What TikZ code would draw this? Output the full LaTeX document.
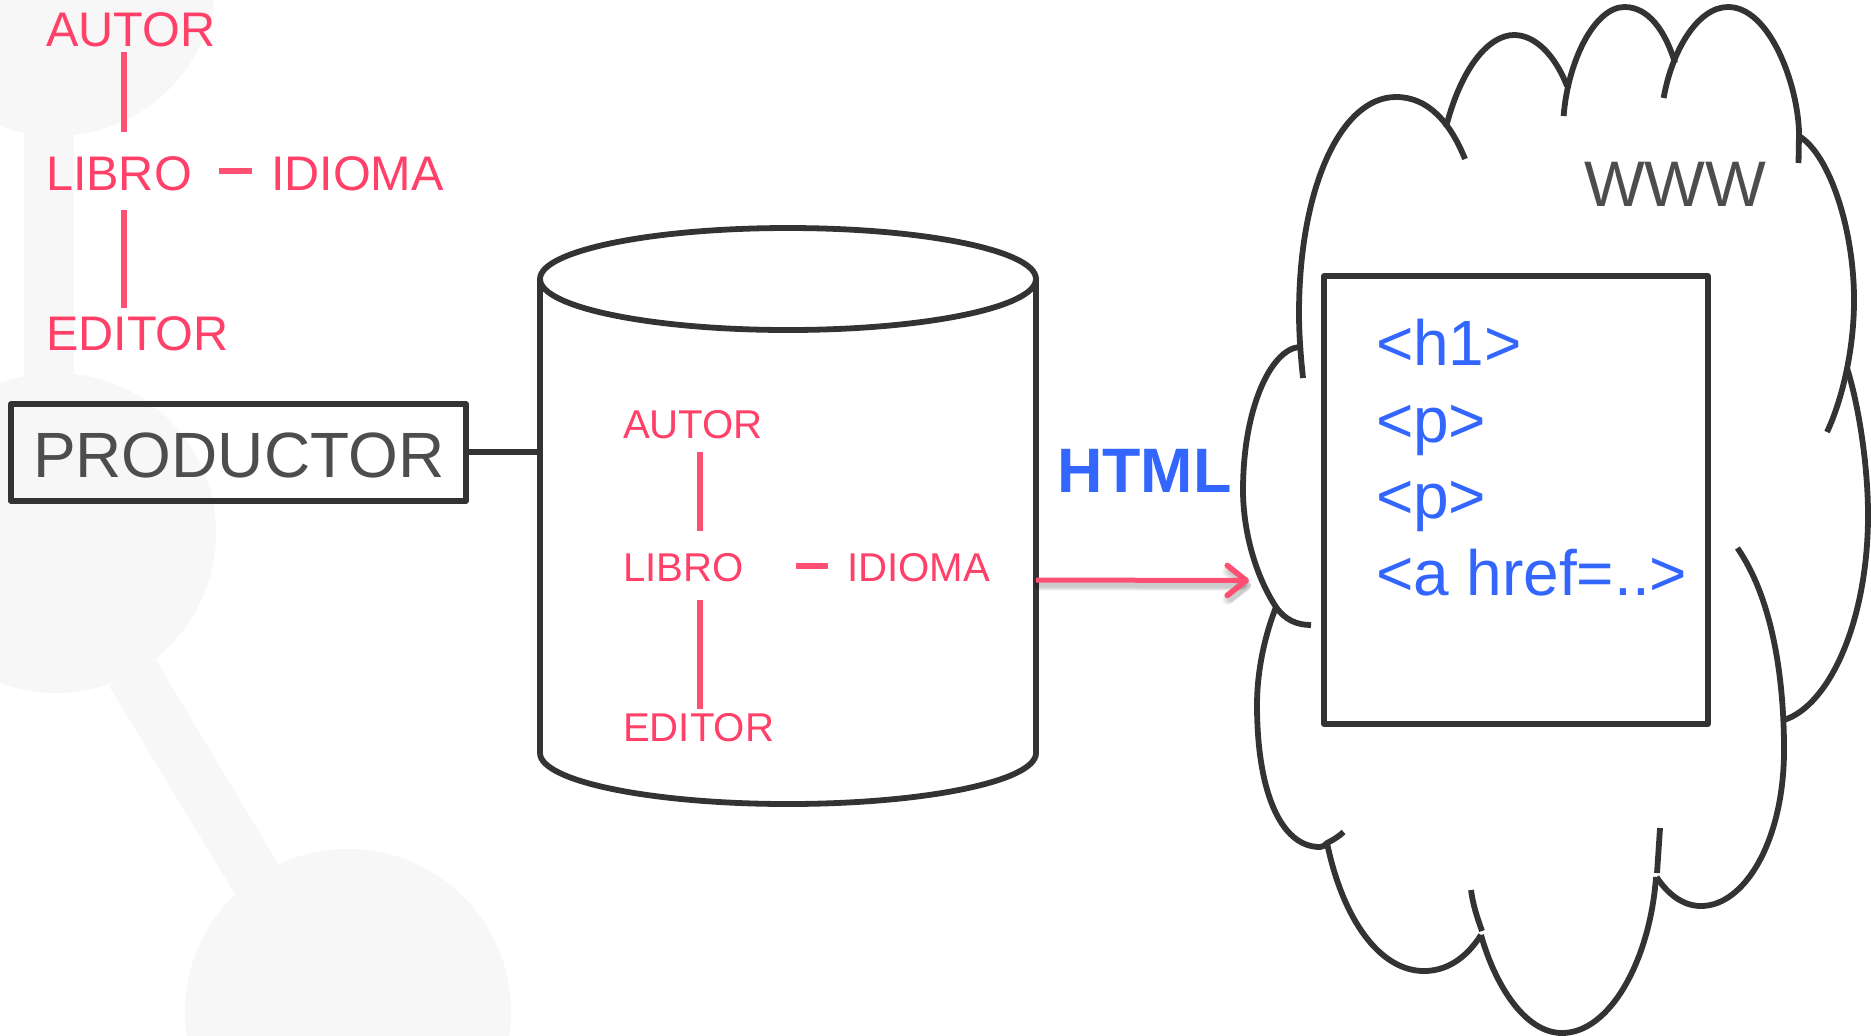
\documentclass[tikz,border=0pt]{standalone}
\usepackage{fontspec}
\setmainfont{Liberation Sans}
\usetikzlibrary{arrows.meta}
\definecolor{ink}{HTML}{333333}
\definecolor{rosa}{HTML}{FF4069}
\definecolor{rosaline}{HTML}{FF5074}
\definecolor{azul}{HTML}{3366FF}
\definecolor{gris}{HTML}{4D4D4D}
\definecolor{fondo}{HTML}{F7F7F7}
\tikzset{
  txt/.style={inner sep=0pt,outer sep=0pt,anchor=base west},
  big/.style={txt,text=rosa,font=\fontsize{24.3}{25}\selectfont},
  small/.style={txt,text=rosa,font=\fontsize{20.1}{21}\selectfont},
  tag/.style={txt,text=azul,font=\fontsize{32}{32}\selectfont},
  pink/.style={draw=rosaline,line width=3pt},
  outline/.style={draw=ink,line width=2.9pt,line join=round},
  cloud/.style={draw=ink,line width=2.9pt},
  shade/.style={line width=#1,line cap=round,line join=round,draw=black,draw opacity=0.05,-{Straight Barb[length=9pt,width=14pt,line width=#1,round]}},
}
\begin{document}
\begin{tikzpicture}[x=0.5pt,y=-0.5pt]
\useasboundingbox (0,0) rectangle (1871,1035);
\fill[white] (0,0) rectangle (1871,1035);
% background watermark
\begin{scope}
\clip (0,0) rectangle (1871,1035);
\fill[fondo] (56,-24) circle[radius=160];
\fill[fondo] (56,533) circle[radius=160];
\fill[fondo] (348,1012) circle[radius=163];
\fill[fondo] (24,100) rectangle (74,400);
\fill[fondo] (109,686) -- (156,660) -- (279,865) -- (235,894) -- cycle;
\end{scope}
% top-left schema
\node[big] (autorA) at (46,46) {AUTOR};
\node[big] (libroA) at (46,190) {LIBRO};
\node[big] (idiomaA) at (271,190) {IDIOMA};
\node[big] (editorA) at (46,350) {EDITOR};
\coordinate (a1) at (123.5,52); \coordinate (a2) at (123.5,132);
\coordinate (a3) at (123.5,210); \coordinate (a4) at (123.5,308);
\coordinate (a5) at (219,171); \coordinate (a6) at (252,171);
\draw[pink] (a1) -- (a2);
\draw[pink] (a3) -- (a4);
\draw[pink] (a5) -- (a6);
% productor
\node[draw=ink,line width=2.9pt,line join=round,inner sep=0pt,outer sep=0pt,anchor=north west,minimum width=227.5pt,minimum height=48.5pt] (prod) at (11,404) {};
\node[txt,text=gris,font=\fontsize{32}{32}\selectfont] (prodt) at (33,477) {PRODUCTOR};
% cylinder
\coordinate (cylL) at (540,279);
\coordinate (cylR) at (1036,279);
\coordinate (cylLb) at (540,753);
\coordinate (cylRb) at (1036,753);
\coordinate (cylLm) at (540,452);
\coordinate (cylRm) at (1036,580);
\draw[outline] (cylL) -- (cylLb) arc[start angle=180,end angle=360,x radius=248,y radius=-51] -- (cylR);
\draw[outline] (788,279) ellipse[x radius=248,y radius=51];
\draw[draw=ink,line width=2.9pt] (prod.east |- cylLm) -- (cylLm);
% inner schema
\node[small] (autorB) at (623,438) {AUTOR};
\node[small] (libroB) at (623,581.5) {LIBRO};
\node[small] (idiomaB) at (847,581.5) {IDIOMA};
\node[small] (editorB) at (623,741) {EDITOR};
\coordinate (b1) at (699.5,452); \coordinate (b2) at (699.5,531);
\coordinate (b3) at (699.5,600); \coordinate (b4) at (699.5,709);
\coordinate (b5) at (796,565.5); \coordinate (b6) at (828,565.5);
\draw[pink] (b1) -- (b2);
\draw[pink] (b3) -- (b4);
\draw[pink] (b5) -- (b6);
% arrow
\coordinate (cloudIn) at (1249,580.5);
\foreach \w in {2.5pt,3.5pt,4.5pt,5.5pt}{
  \draw[shade=\w] ([shift={(2,5)}]cylRm) -- ([shift={(2,5)}]cloudIn);
}
\draw[draw=rosaline,line width=2.5pt,line join=round,-{Straight Barb[length=9.5pt,width=15pt,line width=2.8pt,round]}] (cylRm) -- (cloudIn);
\node[txt,text=azul,font=\bfseries\fontsize{31.4}{32}\selectfont] (html) at (1057,492.5) {HTML};
% cloud
\draw[cloud] (1303,378) .. controls (1300,350) and (1299,330) .. (1299,313) .. controls (1299,190) and (1340,97) .. (1396,97) .. controls (1428,97) and (1450,122) .. (1465,159);
\draw[cloud] (1446,127) .. controls (1462,65) and (1490,35) .. (1514,35) .. controls (1535,35) and (1555,55) .. (1567,86);
\draw[cloud] (1563.6,116) .. controls (1568,60) and (1595,7) .. (1624.5,7) .. controls (1648,7) and (1665,30) .. (1675,63);
\draw[cloud] (1663.6,98) .. controls (1672,50) and (1698,7) .. (1728,7) .. controls (1770,7) and (1798,85) .. (1799,133) -- (1798.5,163);
\draw[cloud] (1799,136) .. controls (1830,155) and (1854,230) .. (1854,300) .. controls (1854,350) and (1842,400) .. (1827,432);
\draw[cloud] (1847,368) .. controls (1860,410) and (1868,470) .. (1868,515) .. controls (1868,620) and (1830,705) .. (1784,720);
\draw[cloud] (1737.4,548) .. controls (1770,595) and (1784,670) .. (1784,750) .. controls (1784,840) and (1745,906) .. (1701,906) .. controls (1682,906) and (1667,893) .. (1656.5,877);
\draw[cloud] (1660,828) -- (1657,873);
\draw[cloud] (1656,877) .. controls (1650,960) and (1610,1033) .. (1562,1033) .. controls (1525,1033) and (1495,985) .. (1481,935);
\draw[cloud] (1471,890) .. controls (1473,905) and (1477,917) .. (1482,931);
\draw[cloud] (1481,935) .. controls (1465,960) and (1445,971) .. (1424,971) .. controls (1380,971) and (1343,920) .. (1327,843);
\draw[cloud] (1343.6,832) .. controls (1338,837) and (1333,840) .. (1327,843) .. controls (1324,846) and (1322,847) .. (1320,847) .. controls (1280,847) and (1257,790) .. (1257,705) .. controls (1257,670) and (1265,635) .. (1276,607);
\draw[cloud] (1311,625) .. controls (1297,625) and (1285,620) .. (1276,607) .. controls (1255,575) and (1243,530) .. (1243,490) .. controls (1243,410) and (1270,350) .. (1299,347);
% page
\node[draw=ink,line width=2.9pt,line join=round,inner sep=0pt,outer sep=0pt,anchor=north west,minimum width=191.8pt,minimum height=224pt] (page) at (1324,276) {};
\node[tag] (t1) at (1376,365.5) {<h1>};
\node[tag] (t2) at (1376,442) {<p>};
\node[tag] (t3) at (1376,518) {<p>};
\node[tag] (t4) at (1376,595) {<a href=..>};
\node[txt,text=gris,font=\fontsize{32.2}{33}\selectfont] (www) at (1584,206) {WWW};
\end{tikzpicture}
\end{document}
